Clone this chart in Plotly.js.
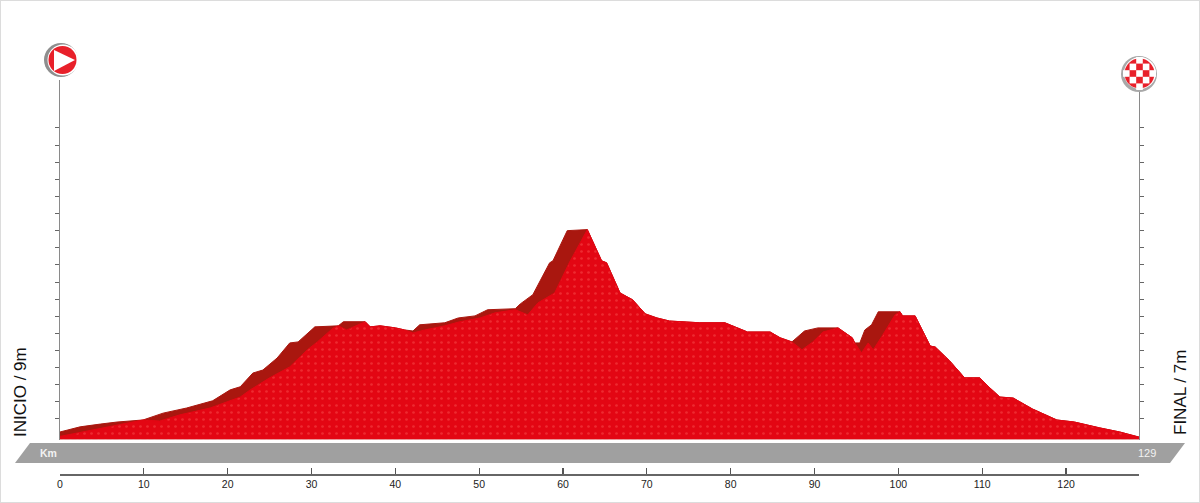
<!DOCTYPE html>
<html><head><meta charset="utf-8">
<script src="https://cdn.plot.ly/plotly-3.0.1.min.js"></script>
<style>html,body{margin:0;padding:0;background:#fff}#c{width:1200px;height:503px}</style></head>
<body><div id="c"></div>
<script>
const backKm=[0,2.4,4.8,6.8,9.9,12.3,15.1,18.2,20.3,21.5,23.0,24.2,25.9,27.4,28.4,30.4,33.2,33.8,36.4,37.0,38.2,40.0,41.1,42.1,42.9,45.9,47.5,49.5,51.0,54.3,54.9,56.4,58.4,58.8,60.5,62.9,64.6,65.2,66.8,68.3,69.8,71.2,72.7,76.3,79.3,81.1,82.0,84.7,85.9,87.3,88.8,90.4,92.8,94.5,94.8,95.4,96.0,96.8,97.6,100.2,100.5,102.0,103.8,104.4,106.1,107.9,109.7,110.9,112.1,113.7,116.0,118.9,121.0,124.0,126.4,128.7];
const backElev=[22,37,45,51,57,77,92,113,145,154,194,203,238,282,285,329,332,344,344,329,332,326,320,317,335,341,355,361,379,382,396,423,516,522,610,613,522,516,428,408,367,355,346,341,341,323,314,314,297,285,317,326,326,297,282,282,320,335,373,373,361,361,273,270,230,180,180,151,124,121,89,57,51,34,22,7];
const frontKm=[0,2.7,6.0,9.9,11.9,14.3,17.9,21.5,22.7,25.0,27.4,29.5,30.7,32.6,33.2,34.2,36.1,36.4,37.0,38.2,40.0,41.1,42.1,43.5,45.9,47.7,50.1,51.9,54.3,55.8,57.0,59.0,60.8,62.9,64.6,65.2,66.8,68.3,69.8,71.2,72.7,76.3,79.3,81.1,82.0,84.7,85.9,87.3,88.5,89.8,91.0,92.8,94.5,94.8,95.6,96.4,97.0,98.0,99.6,100.2,100.5,102.0,103.8,104.4,106.1,107.9,109.7,110.9,112.1,113.7,116.0,118.9,121.0,124.0,126.4,128.7];
const frontElev=[9,22,37,57,54,72,92,124,145,180,212,262,285,326,332,320,341,344,329,332,326,320,311,320,332,344,355,370,379,364,399,428,519,613,522,516,428,408,367,355,346,341,341,323,314,314,297,285,262,285,314,326,297,282,253,282,262,300,364,373,361,361,273,270,230,180,180,151,124,121,89,57,51,34,22,7];
const kmTicks=[0,10,20,30,40,50,60,70,80,90,100,110,120,128.7];
const kmLabels=['0','10','20','30','40','50','60','70','80','90','100','110','120',''];
const elevTicks=[60,110,160,210,260,310,360,410,460,510,560,610,660,710,760,810,860,910];
const startLabel='INICIO / 9m', finishLabel='FINAL / 7m', bandLeft='Km', bandRight='129';

const W=1200,H=503;
const px=x=>x/W, py=y=>1-y/H;
const poly=pts=>'M'+pts.map(p=>px(p[0]).toFixed(5)+' '+py(p[1]).toFixed(5)).join('L')+'Z';
const pShape=(pts,fill)=>({type:'path',xref:'paper',yref:'paper',path:poly(pts),fillcolor:fill,line:{width:0},layer:'above'});
const circ=(cx,cy,rx,ry,fill,line,lw)=>({type:'circle',xref:'paper',yref:'paper',x0:px(cx-rx),x1:px(cx+rx),y0:py(cy+ry),y1:py(cy-ry),fillcolor:fill,line:{color:line||fill,width:lw||0},layer:'above'});

const shapes=[
 {type:'rect',xref:'paper',yref:'paper',x0:0,x1:1,y0:0,y1:1,fillcolor:'rgba(0,0,0,0)',line:{color:'#dcdcdc',width:2},layer:'below'},
 pShape([[30,443],[1185,443],[1170,463],[15,463]],'#a0a0a0'),
 circ(61,60,17,17,'#8e8e8e'),circ(63,60,15.5,15.5,'#ffffff'),circ(62.5,60,14,14,'#e8202a'),
 pShape([[54,50],[54,71],[75,60]],'#ffffff'),
 circ(1139,74,18,18,'#a8a8a8'),circ(1140,73,16,16,'#ffffff'),circ(1139.5,73.5,15,15,'#e8202a')
];
const sq=6.6;
for(let i=-2;i<=2;i++)for(let j=-2;j<=2;j++){
  if(((i+j)%2+2)%2!==0) continue;
  if(Math.abs(i)+Math.abs(j)>3) continue;
  const cx=1139.5+i*sq,cy=73.5+j*sq;
  shapes.push(pShape([[cx-sq/2,cy-sq/2],[cx+sq/2,cy-sq/2],[cx+sq/2,cy+sq/2],[cx-sq/2,cy+sq/2]],'#ffffff'));
}
const ann=(x,y,text,opt)=>Object.assign({xref:'paper',yref:'paper',x:px(x),y:py(y),text,showarrow:false,xanchor:'center',yanchor:'middle'},opt);
const annotations=[
 ann(20,392,startLabel,{textangle:-90,font:{family:'Liberation Sans',size:17,color:'#111'}}),
 ann(1180,393,finishLabel,{textangle:-90,font:{family:'Liberation Sans',size:17,color:'#111'}}),
 ann(48,453,'<b>'+bandLeft+'</b>',{font:{family:'Liberation Sans',size:10.5,color:'#f2f2f2'}}),
 ann(1147,453,bandRight,{font:{family:'Liberation Sans',size:11,color:'#f2f2f2'}})
];
const traces=[
 {x:backKm,y:backElev,mode:'lines',fill:'tozeroy',fillcolor:'#a9170f',line:{color:'#a9170f',width:1},hoverinfo:'skip',showlegend:false},
 {x:frontKm,y:frontElev,mode:'lines',fill:'tozeroy',fillcolor:'#e30613',fillpattern:{shape:'.',bgcolor:'#e30613',fgcolor:'#ee2a30',size:7,solidity:0.12},line:{color:'#e30613',width:1},hoverinfo:'skip',showlegend:false}
];
const layout={width:W,height:H,margin:{l:0,r:0,t:0,b:0},paper_bgcolor:'#fff',plot_bgcolor:'#fff',showlegend:false,
 xaxis:{domain:[px(60),px(1139)],range:[0,128.7],anchor:'free',position:py(474),tickmode:'array',tickvals:kmTicks,ticktext:kmLabels,ticks:'inside',ticklen:6,tickwidth:1.2,tickcolor:'#555',showline:true,linecolor:'#666',linewidth:1.5,showgrid:false,zeroline:false,ticklabelstandoff:0,tickfont:{family:'Liberation Sans',size:10.5,color:'#222'}},
 yaxis:{domain:[py(439.5),py(80)],range:[0,1050],tickmode:'array',tickvals:elevTicks,ticktext:elevTicks.map(()=>''),showticklabels:false,ticks:'outside',ticklen:4,tickwidth:1,tickcolor:'#666',showline:true,mirror:'ticks',linecolor:'#8a8a8a',linewidth:1,showgrid:false,zeroline:false},
 shapes,annotations};
Plotly.newPlot('c',traces,layout,{staticPlot:true,displayModeBar:false});
</script></body></html>
